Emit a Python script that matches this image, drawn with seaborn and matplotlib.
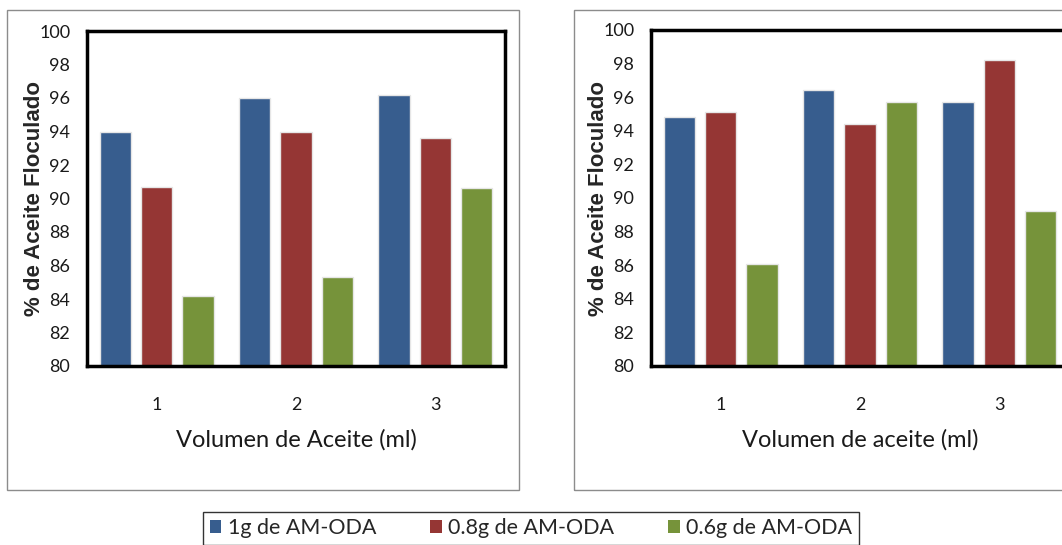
import numpy as np
import pandas as pd
import matplotlib
matplotlib.use("Agg")
import matplotlib.pyplot as plt
from matplotlib.patches import Rectangle
import seaborn as sns

sns.set_style("white")
plt.rcParams['font.family'] = ['Lato', 'DejaVu Sans']

# Volumen de aceite (ml)
volumen = ["1", "2", "3"]
series = ["1g de AM-ODA", "0.8g de AM-ODA", "0.6g de AM-ODA"]
colores = ["#375D8E", "#953634", "#76933A"]

# panel izquierdo
izq_1g = [94.0, 96.0, 96.2]
izq_08g = [90.7, 94.0, 93.6]
izq_06g = [84.2, 85.3, 90.6]

# panel derecho
der_1g = [94.8, 96.4, 95.7]
der_08g = [95.1, 94.4, 98.2]
der_06g = [86.1, 95.7, 89.2]


def tabla(a, b, c):
    rows = []
    for nombre, vals in zip(series, [a, b, c]):
        for v, y in zip(volumen, vals):
            rows.append({"vol": v, "serie": nombre, "pct": y})
    return pd.DataFrame(rows)


fig = plt.figure(figsize=(10.62, 5.45), dpi=100)
W, H = 1062.0, 545.0

# marcos grises de cada panel
for x0, x1 in [(7, 519), (574, 1090)]:
    fig.patches.append(Rectangle((x0 / W, 1 - 490 / H), (x1 - x0) / W, 480 / H,
                                 transform=fig.transFigure, fill=False,
                                 edgecolor="#8c8c8c", linewidth=1.0))

ax1 = fig.add_axes([87 / W, 1 - 366 / H, 418 / W, 335 / H])
ax2 = fig.add_axes([651 / W, 1 - 366 / H, 418 / W, 336 / H])

datos = [(ax1, tabla(izq_1g, izq_08g, izq_06g), "Volumen de Aceite (ml)", 45),
         (ax2, tabla(der_1g, der_08g, der_06g), "Volumen de aceite (ml)", 609)]

for ax, df, xlab, ylx in datos:
    sns.barplot(data=df, x="vol", y="pct", hue="serie", palette=colores,
                saturation=1, width=0.89, gap=0.24, edgecolor="#e6e6e6",
                linewidth=1.0, legend=True, ax=ax)
    ax.set_ylim(80, 100)
    ax.set_yticks(np.arange(80, 101, 2))
    ax.set_xlim(-0.5, 2.5)
    for s in ax.spines.values():
        s.set_visible(True)
        s.set_color("black")
        s.set_linewidth(2.5)
    ax.tick_params(axis="y", length=0, pad=12, labelsize=13, colors="#1a1a1a")
    ax.tick_params(axis="x", length=0, pad=22, labelsize=13, colors="#1a1a1a")
    ax.set_xlabel(xlab, fontsize=17, labelpad=12, color="#1a1a1a")
    ax.set_ylabel("% de Aceite Floculado", fontsize=16, fontweight="bold",
                  family=["Liberation Sans", "DejaVu Sans"])
    x0 = ax.get_position().x0 * W
    ax.yaxis.set_label_coords((ylx - x0) / 418, 0.5)
    ax.get_legend().remove()

handles, labels = ax1.get_legend_handles_labels()
leg = fig.legend(handles, labels, loc="upper center", ncol=3,
                 bbox_to_anchor=(531 / W, 1 - 512 / H), frameon=True,
                 fancybox=False, edgecolor="black", fontsize=15.5,
                 handlelength=0.55, handleheight=0.55, handletextpad=0.3,
                 columnspacing=2.5, borderpad=0.3, borderaxespad=0)
leg.get_frame().set_linewidth(1.0)
for h in leg.legend_handles:
    h.set_edgecolor("none")

fig.savefig("out.png", dpi=100)
